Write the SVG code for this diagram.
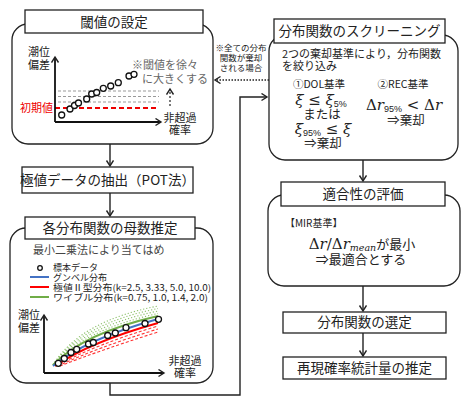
<svg xmlns="http://www.w3.org/2000/svg" width="467" height="401" viewBox="0 0 467 401">
<defs>
<marker id="ah" markerWidth="10" markerHeight="10" refX="6" refY="4" orient="auto" markerUnits="userSpaceOnUse">
<path d="M0.5,0.5 L6,4 L0.5,7.5" fill="none" stroke="#222" stroke-width="1.4"/>
</marker>
<style>
.jp{font-family:"Noto Sans CJK JP","Noto Sans",sans-serif;fill:#222}
.t{font-size:13.5px;text-anchor:middle}
.s{font-size:11px}
.lg{font-size:9px}
.m{font-family:"DejaVu Serif","Liberation Serif",serif;fill:#222}
.sub{font-family:"Liberation Sans",sans-serif;font-style:normal}
.cont{fill:#fff;stroke:#222;stroke-width:1.3}
.tb{fill:#fff;stroke:#222;stroke-width:1.3}
.ax{stroke:#111;stroke-width:1.8;fill:none}
.pt{fill:#fff;stroke:#111;stroke-width:1.3}
.con{stroke:#222;stroke-width:1.4;fill:none}
</style>
</defs>
<rect width="467" height="401" fill="#fff"/>

<g id="connectors">
<line class="con" x1="110" y1="144" x2="110" y2="166" marker-end="url(#ah)"/>
<line class="con" x1="110" y1="193" x2="110" y2="216" marker-end="url(#ah)"/>
<polyline class="con" points="110,383 110,395 240,395 240,97 267,97" stroke="#444" stroke-width="1.6" marker-end="url(#ah)"/>
<line class="con" x1="269" y1="80" x2="215" y2="80" stroke-dasharray="1.5 1.5" stroke-width="1.6" marker-end="url(#ah)"/>
<line class="con" x1="363" y1="160" x2="363" y2="181" marker-end="url(#ah)"/>
<line class="con" x1="363" y1="286" x2="363" y2="311" marker-end="url(#ah)"/>
<line class="con" x1="363" y1="333" x2="363" y2="356" marker-end="url(#ah)"/>
<g class="jp" font-size="8.5" text-anchor="middle">
<text x="241" y="51">※全ての分布</text>
<text x="241" y="61">関数が棄却</text>
<text x="241" y="71">される場合</text>
</g>
</g>

<g id="threshold">
<rect class="cont" x="12" y="24" width="201" height="120" rx="16"/>
<rect class="tb" x="25" y="10" width="178" height="23"/>
<text class="jp t" x="114" y="26.5">閾値の設定</text>
<g stroke="#999" stroke-width="1" stroke-dasharray="3 2">
<line x1="58" y1="91" x2="159" y2="91"/>
<line x1="58" y1="96.5" x2="159" y2="96.5"/>
<line x1="58" y1="102" x2="159" y2="102"/>
</g>
<line x1="55" y1="108" x2="157" y2="108" stroke="#e00" stroke-width="2" stroke-dasharray="5 3"/>
<line x1="55" y1="122" x2="55" y2="57" class="ax" marker-end="url(#ah)"/>
<line x1="55" y1="122" x2="161" y2="122" class="ax" marker-end="url(#ah)"/>
<line x1="170" y1="106" x2="170" y2="89" stroke="#222" stroke-width="1.2" stroke-dasharray="2 2" marker-end="url(#ah)"/>
<g>
<circle class="pt" cx="61.7" cy="115" r="3"/>
<circle class="pt" cx="70" cy="109" r="3"/>
<circle class="pt" cx="74.5" cy="105.5" r="3"/>
<circle class="pt" cx="78.5" cy="103" r="3"/>
<circle class="pt" cx="86.7" cy="99" r="3"/>
<circle class="pt" cx="91.7" cy="94" r="3"/>
<circle class="pt" cx="96.7" cy="92.5" r="3"/>
<circle class="pt" cx="103.3" cy="88.3" r="3"/>
<circle class="pt" cx="110.7" cy="86" r="3"/>
<circle class="pt" cx="118.3" cy="82.7" r="3"/>
<circle class="pt" cx="129" cy="76" r="3"/>
<circle class="pt" cx="134" cy="74.3" r="3"/>
</g>
<text class="jp s" x="28" y="56" font-size="12">潮位</text>
<text class="jp s" x="28" y="69" font-size="12">偏差</text>
<text class="jp s" x="20" y="112" style="fill:#e00">初期値</text>
<text class="jp s" x="132" y="69" style="fill:#666">※閾値を徐々</text>
<text class="jp s" x="142" y="83" style="fill:#666">に大きくする</text>
<text class="jp s" x="180" y="122" text-anchor="middle">非超過</text>
<text class="jp s" x="180" y="134" text-anchor="middle">確率</text>
</g>

<g id="pot">
<rect class="tb" x="22" y="167" width="171" height="26"/>
<text class="jp t" x="107.5" y="185">極値データの抽出（POT法）</text>
</g>

<g id="param">
<rect class="cont" x="10" y="228" width="203" height="155" rx="16"/>
<rect class="tb" x="25" y="217" width="170" height="22"/>
<text class="jp t" x="110" y="233" font-size="14">各分布関数の母数推定</text>
<text class="jp s" x="33" y="254" style="fill:#444">最小二乗法により当てはめ</text>
<circle cx="40" cy="268" r="2.3" fill="#fff" stroke="#111" stroke-width="1.3"/>
<line x1="30" y1="277" x2="49" y2="277" stroke="#4472c4" stroke-width="2"/>
<line x1="30" y1="287" x2="49" y2="287" stroke="#f00" stroke-width="2"/>
<line x1="30" y1="297" x2="49" y2="297" stroke="#70ad47" stroke-width="2"/>
<text class="jp lg" x="53" y="271">標本データ</text>
<text class="jp lg" x="53" y="281">グンベル分布</text>
<text class="jp lg" x="53" y="291" textLength="158" lengthAdjust="spacingAndGlyphs">極値Ⅱ型分布(k=2.5, 3.33, 5.0, 10.0)</text>
<text class="jp lg" x="53" y="301" textLength="155" lengthAdjust="spacingAndGlyphs">ワイブル分布(k=0.75, 1.0, 1.4, 2.0)</text>
<g fill="none">
<g stroke="#8cc06a" stroke-width="1.1" stroke-dasharray="1.2 2">
<path d="M53,365 Q80,321 158,306"/>
<path d="M53,365 Q81,324 158,308.5"/>
<path d="M53,365 Q82,327 158,311"/>
<path d="M53,365 Q83,330 158,313.5"/>
</g>
<path d="M53,365 Q84,333 158,316" stroke="#70ad47" stroke-width="2"/>
<g stroke="#f33" stroke-width="1.1" stroke-dasharray="3 2">
<path d="M56,366 Q94,345 158,326"/>
<path d="M58,366 Q96,348 158,329"/>
<path d="M60,366 Q98,351 158,332"/>
</g>
<path d="M55,366 Q90,342 158,323" stroke="#f00" stroke-width="2"/>
<path d="M53,366 Q86,339 158,319" stroke="#4472c4" stroke-width="2"/>
</g>
<g>
<circle class="pt" cx="58.3" cy="363.3" r="3"/>
<circle class="pt" cx="64.3" cy="358.5" r="3"/>
<circle class="pt" cx="71" cy="352.5" r="3"/>
<circle class="pt" cx="76.7" cy="349.3" r="3"/>
<circle class="pt" cx="88.5" cy="344" r="3"/>
<circle class="pt" cx="93.3" cy="342.5" r="3"/>
<circle class="pt" cx="107.7" cy="335.5" r="3"/>
<circle class="pt" cx="115.3" cy="333" r="3"/>
<circle class="pt" cx="126" cy="327.7" r="3"/>
<circle class="pt" cx="145" cy="323.5" r="3"/>
<circle class="pt" cx="158.5" cy="319.3" r="3"/>
</g>
<line x1="44" y1="373" x2="44" y2="315" class="ax" marker-end="url(#ah)"/>
<line x1="44" y1="373" x2="164" y2="373" class="ax" marker-end="url(#ah)"/>
<text class="jp s" x="18" y="319">潮位</text>
<text class="jp s" x="18" y="332">偏差</text>
<text class="jp s" x="185" y="365" text-anchor="middle">非超過</text>
<text class="jp s" x="185" y="377" text-anchor="middle">確率</text>
</g>

<g id="screening">
<rect class="cont" x="269" y="35" width="189" height="125" rx="16"/>
<rect class="tb" x="274" y="19" width="171" height="24"/>
<text class="jp t" x="359.5" y="36" font-size="13">分布関数のスクリーニング</text>
<text class="jp s" x="282" y="58">2つの棄却基準により，分布関数</text>
<text class="jp s" x="282" y="70">を絞り込み</text>
<text class="jp" x="319" y="88" font-size="10.5" text-anchor="middle">①DOL基準</text>
<text class="m" x="321" y="105" font-size="15" text-anchor="middle"><tspan font-style="italic">ξ</tspan> ≤ <tspan font-style="italic">ξ</tspan><tspan class="sub" font-size="9" dy="2">5%</tspan></text>
<text class="jp" x="322" y="119" font-size="12.5" text-anchor="middle">または</text>
<text class="m" x="323" y="134" font-size="15" text-anchor="middle"><tspan font-style="italic">ξ</tspan><tspan class="sub" font-size="9" dy="2">95%</tspan><tspan dy="-2"> ≤ </tspan><tspan font-style="italic">ξ</tspan></text>
<text class="jp" x="323" y="148" font-size="12.5" text-anchor="middle">⇒棄却</text>
<text class="jp" x="403" y="88" font-size="10.5" text-anchor="middle">②REC基準</text>
<text class="m" x="404" y="110" font-size="15" text-anchor="middle">Δ<tspan font-style="italic">r</tspan><tspan class="sub" font-size="9" dy="2">95%</tspan><tspan dy="-2"> &lt; Δ</tspan><tspan font-style="italic">r</tspan></text>
<text class="jp" x="406" y="125" font-size="12.5" text-anchor="middle">⇒棄却</text>
</g>

<g id="fitness">
<rect class="cont" x="268" y="195" width="192" height="91" rx="16"/>
<rect class="tb" x="281" y="182" width="164" height="24"/>
<text class="jp t" x="363" y="199" font-size="13">適合性の評価</text>
<text class="jp" x="285" y="227" font-size="10">【MIR基準】</text>
<text x="362" y="249" text-anchor="middle"><tspan class="m" font-size="15">Δ<tspan font-style="italic">r</tspan>/Δ<tspan font-style="italic">r</tspan><tspan font-style="italic" font-size="9.5" dy="2">mean</tspan></tspan><tspan class="jp" font-size="13" dy="-2">が最小</tspan></text>
<text class="jp" x="361" y="264" font-size="13" text-anchor="middle">⇒最適合とする</text>
</g>

<g id="select">
<rect class="tb" x="283" y="312" width="163" height="21"/>
<text class="jp t" x="364.5" y="327" font-size="13">分布関数の選定</text>
</g>

<g id="estimate">
<rect class="tb" x="283" y="357" width="163" height="22"/>
<text class="jp t" x="364.5" y="373" font-size="13">再現確率統計量の推定</text>
</g>
</svg>
